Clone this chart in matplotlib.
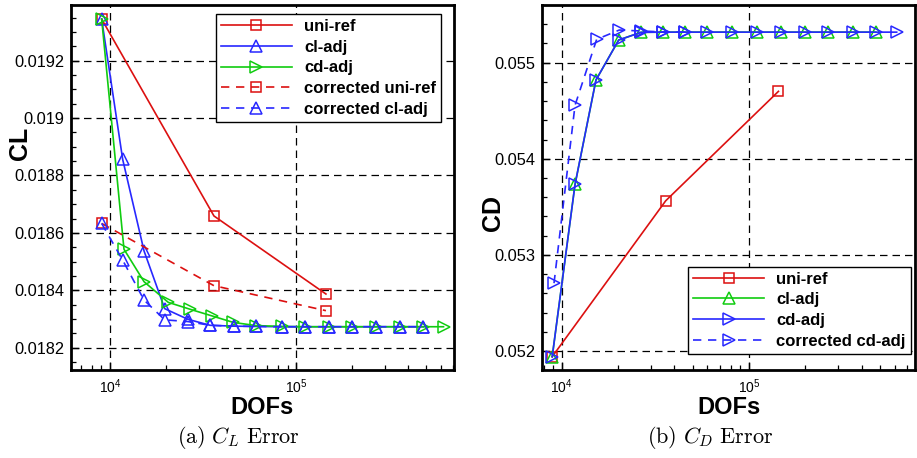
import numpy as np
import matplotlib
matplotlib.use("Agg")
import matplotlib.pyplot as plt
from matplotlib.ticker import MultipleLocator, LogLocator, NullFormatter, FuncFormatter

plt.rcParams['font.family'] = ['Liberation Sans', 'DejaVu Sans']
plt.rcParams['mathtext.fontset'] = 'cm'

# ---- CL data (left panel) ----
cl_uni_dofs = [9020, 36200, 144700]
cl_uni = [0.019345, 0.018659, 0.018387]
cl_uni_corr = [0.018633, 0.018416, 0.018329]

cl_cladj_dofs = [9020, 11700, 15240, 19680, 26200, 34500, 46400, 61000, 83800,
                 112000, 150000, 201000, 269000, 362000, 483000]
cl_cladj = [0.019345, 0.018856, 0.018537, 0.018336, 0.018299, 0.018278, 0.018275,
            0.018274, 0.018273, 0.018273, 0.018273, 0.018273, 0.018273, 0.018273, 0.018273]
cl_cladj_corr = [0.018633, 0.018505, 0.018366, 0.018297, 0.018291, 0.018278, 0.018275,
                 0.018274, 0.018273, 0.018273, 0.018273, 0.018273, 0.018273, 0.018273, 0.018273]

cl_cdadj_dofs = [9020, 11890, 15240, 20560, 26900, 35200, 46000, 61000, 83800,
                 112000, 150000, 201000, 269000, 362000, 483000, 620000]
cl_cdadj = [0.019345, 0.018543, 0.018430, 0.018358, 0.018334, 0.018311, 0.018288,
            0.018277, 0.018274, 0.018273, 0.018273, 0.018273, 0.018273, 0.018273,
            0.018273, 0.018273]

# ---- CD data (right panel) ----
cd_uni_dofs = [8900, 35900, 143600]
cd_uni = [0.051941, 0.053563, 0.054702]

cd_cladj_dofs = [8900, 11780, 15240, 20150, 26500, 34800, 45500, 60000, 81000,
                 110000, 148000, 198000, 265000, 360000, 475000]
cd_cladj = [0.051941, 0.053733, 0.054820, 0.055236, 0.055316, 0.055318, 0.055318,
            0.055318, 0.055318, 0.055318, 0.055318, 0.055318, 0.055318, 0.055318, 0.055318]

cd_cdadj_dofs = [8900, 11780, 15240, 20150, 26500, 34800, 45500, 60000, 81000,
                 110000, 148000, 198000, 265000, 360000, 475000, 614000]
cd_cdadj = [0.051941, 0.053733, 0.054820, 0.055236, 0.055316, 0.055318, 0.055318,
            0.055318, 0.055318, 0.055318, 0.055318, 0.055318, 0.055318, 0.055318,
            0.055318, 0.055318]

cd_cdadj_corr_dofs = [9100, 11780, 15370, 20300, 26500, 34800, 45500]
cd_cdadj_corr = [0.052706, 0.054557, 0.055243, 0.055340, 0.055330, 0.055320, 0.055318]

RED = '#dc1010'
BLUE = '#2828ff'
GREEN = '#10cc10'

fig = plt.figure(figsize=(9.17, 4.58), dpi=100)
ax1 = fig.add_axes([0.0774, 0.192, 0.4177, 0.797])
ax2 = fig.add_axes([0.5914, 0.192, 0.4064, 0.797])


def style_axis(ax):
    ax.set_xscale('log')
    for s in ax.spines.values():
        s.set_linewidth(2.0)
    ax.tick_params(which='both', direction='in', top=False, right=False)
    ax.tick_params(which='major', length=6, width=1.0, labelsize=11.8, pad=5)
    ax.tick_params(which='minor', length=3.5, width=0.9)
    ax.tick_params(axis='x', labelsize=10, pad=5)
    ax.xaxis.set_major_locator(LogLocator(base=10))
    ax.xaxis.set_minor_locator(LogLocator(base=10, subs=np.arange(2, 10)))
    ax.xaxis.set_minor_formatter(NullFormatter())
    ax.grid(True, which='major', color='black', linestyle=(0, (6, 4)), linewidth=0.9)
    ax.set_axisbelow(True)


mk = dict(markerfacecolor='none', markeredgewidth=1.1, linewidth=1.2)
legprops = dict(prop={'weight': 'bold', 'size': 12}, handlelength=4.3, fancybox=False,
                framealpha=1, edgecolor='black', borderpad=0.3, labelspacing=0.34,
                handletextpad=0.7, borderaxespad=0)

# left panel
style_axis(ax1)
ax1.plot(cl_uni_dofs, cl_uni, '-', color=RED, marker='s', markersize=7, label='uni-ref', **mk)
ax1.plot(cl_cladj_dofs, cl_cladj, '-', color=BLUE, marker='^', markersize=8, label='cl-adj', **mk)
ax1.plot(cl_cdadj_dofs, cl_cdadj, '-', color=GREEN, marker='>', markersize=8, label='cd-adj', **mk)
ax1.plot(cl_uni_dofs, cl_uni_corr, '--', color=RED, marker='s', markersize=7,
         label='corrected uni-ref', dashes=(5, 4), **mk)
ax1.plot(cl_cladj_dofs, cl_cladj_corr, '--', color=BLUE, marker='^', markersize=8,
         label='corrected cl-adj', dashes=(5, 4), **mk)
ax1.set_xlim(6170, 706000)
ax1.set_ylim(0.018122, 0.019394)
ax1.yaxis.set_major_locator(MultipleLocator(0.0002))
ax1.yaxis.set_minor_locator(MultipleLocator(0.00005))
ax1.yaxis.set_major_formatter(FuncFormatter(lambda v, p: ('%.4f' % v).rstrip('0')))
ax1.set_xlabel('DOFs', fontsize=17, fontweight='bold', labelpad=0)
ax1.set_ylabel('CL', fontsize=18, fontweight='bold')
ax1.yaxis.set_label_coords(-0.102, 0.62)
leg1 = ax1.legend(loc='upper right', bbox_to_anchor=(0.966, 0.975), **legprops)
leg1.get_frame().set_linewidth(1.0)

# right panel
style_axis(ax2)
ax2.plot(cd_uni_dofs, cd_uni, '-', color=RED, marker='s', markersize=7, label='uni-ref', **mk)
ax2.plot(cd_cladj_dofs, cd_cladj, '-', color=GREEN, marker='^', markersize=8, label='cl-adj', **mk)
ax2.plot(cd_cdadj_dofs, cd_cdadj, '-', color=BLUE, marker='>', markersize=8, label='cd-adj', **mk)
ax2.plot(cd_cdadj_corr_dofs, cd_cdadj_corr, '--', color=BLUE, marker='>', markersize=8,
         label='corrected cd-adj', dashes=(5, 4), **mk)
ax2.set_xlim(7880, 769000)
ax2.set_ylim(0.051802, 0.0556)
ax2.yaxis.set_major_locator(MultipleLocator(0.001))
ax2.yaxis.set_minor_locator(MultipleLocator(0.0002))
ax2.yaxis.set_major_formatter(FuncFormatter(lambda v, p: ('%.3f' % v)))
ax2.set_xlabel('DOFs', fontsize=17, fontweight='bold', labelpad=0)
ax2.set_ylabel('CD', fontsize=18, fontweight='bold')
ax2.yaxis.set_label_coords(-0.100, 0.43)
leg2 = ax2.legend(loc='lower right', bbox_to_anchor=(0.988, 0.045), **legprops)
leg2.get_frame().set_linewidth(1.0)

fig.text(0.26, 0.044, r'$\mathrm{(a)}\ C_L\ \mathrm{Error}$', ha='center', va='center', fontsize=16)
fig.text(0.775, 0.044, r'$\mathrm{(b)}\ C_D\ \mathrm{Error}$', ha='center', va='center', fontsize=16)

fig.savefig('out.png', dpi=100)
